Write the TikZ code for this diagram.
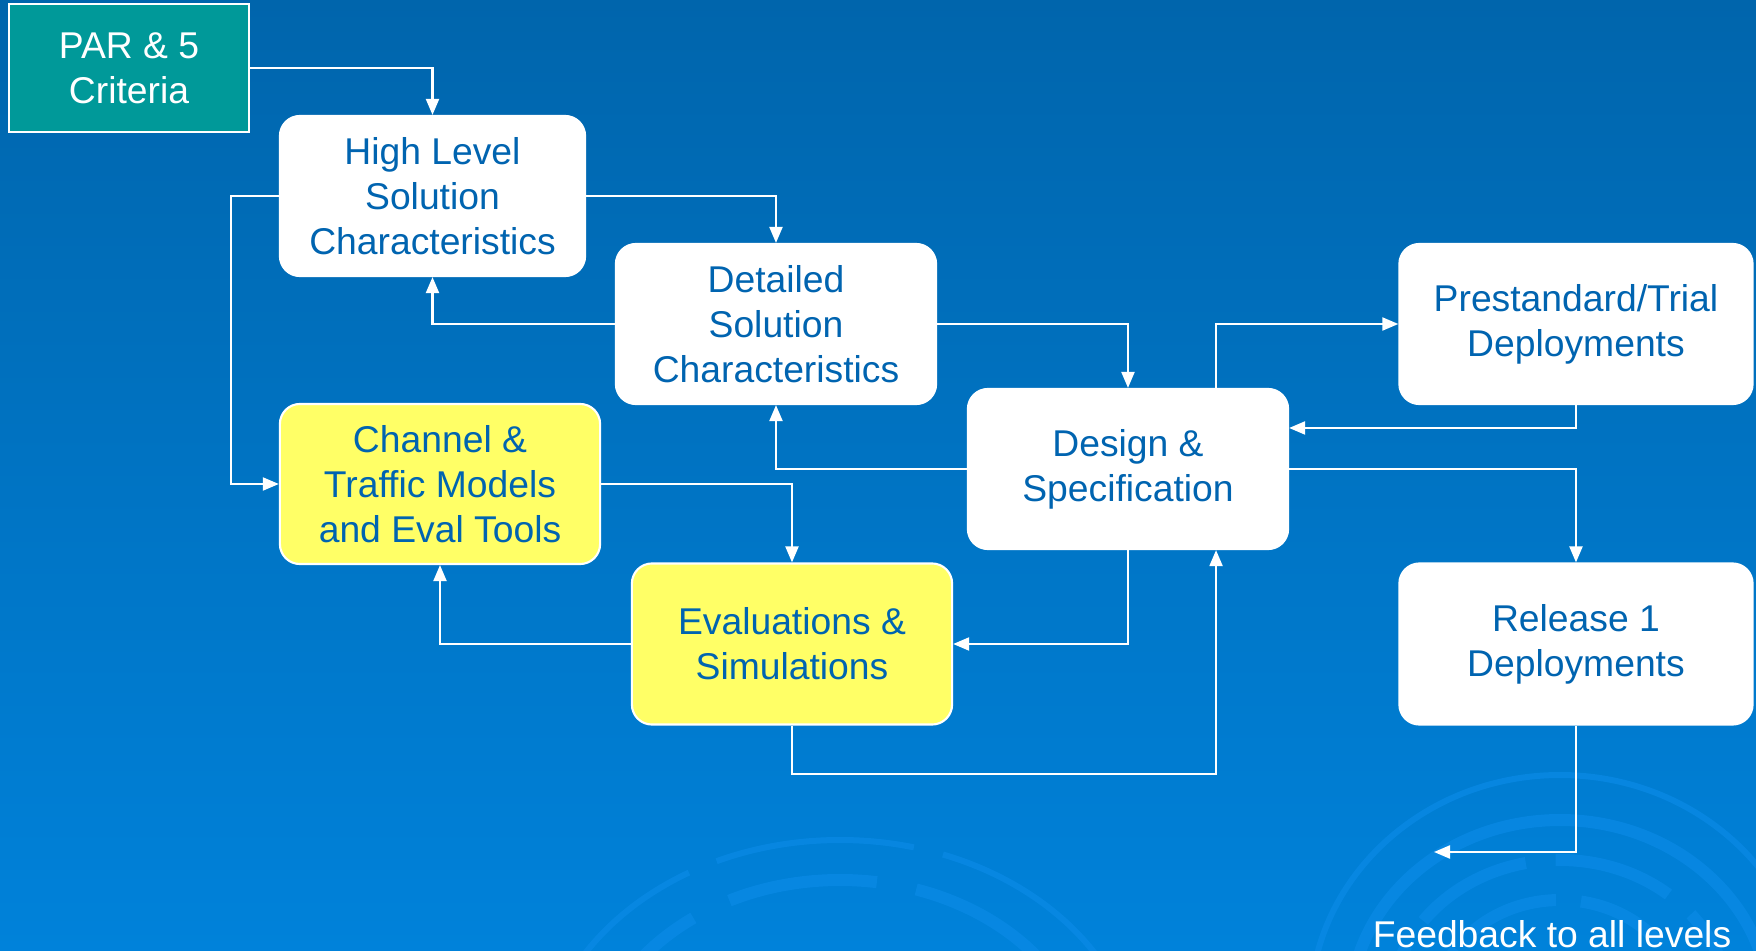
\documentclass[tikz,border=0pt]{standalone}
\usepackage{fontspec}
\setmainfont{Liberation Sans}
\usetikzlibrary{arrows.meta,positioning,calc}

\definecolor{bgtop}{HTML}{0065AC}
\definecolor{bgbot}{HTML}{0082DA}
\definecolor{ringblue}{HTML}{0A8AE6}
\definecolor{boxtext}{HTML}{0064B0}
\definecolor{tealbox}{HTML}{009999}
\definecolor{yellowbox}{HTML}{FFFF66}

\tikzset{
    stagebox/.style={draw=white, line width=0.6pt, rounded corners=0.2cm,
        fill=white, text=boxtext, align=center, inner sep=0pt,
        font=\fontsize{10.6}{12.8}\selectfont},
    modelbox/.style={stagebox, fill=yellowbox},
    parbox/.style={draw=white, line width=0.8pt, fill=tealbox, text=white,
        align=center, inner sep=0pt, font=\fontsize{10.6}{12.8}\selectfont},
    link/.style={draw=white, line width=0.6pt,
        -{Triangle[length=0.16cm,width=0.13cm]}},
    ring/.style={draw=ringblue, line width=0.12cm, opacity=0.7}
}

\begin{document}
\begin{tikzpicture}[x=0.01cm, y=-0.01cm]
\useasboundingbox (0,0) rectangle (1756,951);

%% Background
\fill[top color=bgtop, bottom color=bgbot] (0,0) rectangle (1756,951);
\begin{scope}
    \clip (0,0) rectangle (1756,951);
    % rings bottom right
    \draw[ring] (1560,1010) ellipse [x radius=210, y radius=190];
    \draw[ring, dash pattern=on 1.2cm off 0.3cm] (1560,1010) ellipse [x radius=170, y radius=150];
    \draw[ring, dash pattern=on 0.9cm off 0.25cm] (1560,1010) ellipse [x radius=125, y radius=110];
    \draw[ring, line width=0.06cm] (1560,1010) ellipse [x radius=250, y radius=235];
    % rings bottom middle
    \draw[ring, dash pattern=on 1.5cm off 0.4cm] (840,1080) ellipse [x radius=250, y radius=200];
    \draw[ring, line width=0.06cm, dash pattern=on 2cm off 0.3cm] (840,1080) ellipse [x radius=300, y radius=240];
\end{scope}

%% Boxes
\node[parbox, minimum width=2.40cm, minimum height=1.28cm] (par) at (129,68) {PAR \& 5\\Criteria};
\node[stagebox, minimum width=3.05cm, minimum height=1.60cm] (high) at (432.5,196)
    {High Level\\Solution\\Characteristics};
\node[stagebox, minimum width=3.20cm, minimum height=1.60cm] (detail) at (776,324)
    {Detailed\\Solution\\Characteristics};
\node[stagebox, minimum width=3.20cm, minimum height=1.60cm] (design) at (1128,469)
    {Design \&\\Specification};
\node[stagebox, minimum width=3.53cm, minimum height=1.60cm] (prestd) at (1576,324)
    {Prestandard/Trial\\Deployments};
\node[modelbox, minimum width=3.20cm, minimum height=1.60cm] (channel) at (440,484)
    {Channel \&\\Traffic Models\\and Eval Tools};
\node[modelbox, minimum width=3.20cm, minimum height=1.61cm] (evalsim) at (792,644)
    {Evaluations \&\\Simulations};
\node[stagebox, minimum width=3.53cm, minimum height=1.61cm] (release) at (1576,644)
    {Release 1\\Deployments};
\node[text=white, font=\fontsize{10.6}{12.8}\selectfont, inner sep=0pt] (feedback) at (1552,934)
    {Feedback to all levels};
\coordinate (fbend) at (1434,852);

%% Connectors
\draw[link] (par.east) -| (high.north);
\draw[link] (high.west) -- ++(-48,0) |- (channel.west);
\draw[link] (high.east) -| (detail.north);
\draw[link] (detail.west) -| (high.south);
\draw[link] (detail.east) -| (design.north);
\draw[link] (design.west) -| (detail.south);
\draw[link] ([xshift=0.88cm]design.north) |- (prestd.west);
\draw[link] (prestd.south) |- ([yshift=0.41cm]design.east);
\draw[link] (design.east) -| (release.north);
\draw[link] (channel.east) -| (evalsim.north);
\draw[link] (design.south) |- (evalsim.east);
\draw[link] (evalsim.west) -| (channel.south);
\draw[link] (evalsim.south) -- ++(0,48) -| ([xshift=0.88cm]design.south);
\draw[link] (release.south) |- (fbend);
\end{tikzpicture}
\end{document}
